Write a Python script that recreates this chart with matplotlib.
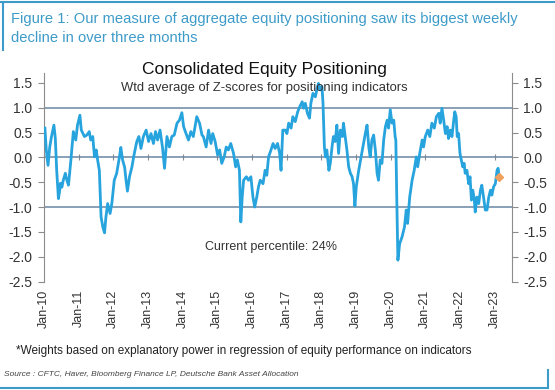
import matplotlib.pyplot as plt
from matplotlib.lines import Line2D

plt.rcParams['font.family'] = ['Liberation Sans', 'DejaVu Sans']

# Позиционирование: время в долях года, значение Z-score
t = [2010.03, 2010.07, 2010.12, 2010.17, 2010.22, 2010.29, 2010.33, 2010.37, 2010.42, 2010.45,
     2010.48, 2010.52, 2010.56, 2010.62, 2010.66, 2010.71, 2010.78, 2010.85, 2010.92, 2010.97,
     2011.04, 2011.08, 2011.17, 2011.24, 2011.31, 2011.35, 2011.41, 2011.46, 2011.51, 2011.55,
     2011.60, 2011.65, 2011.70, 2011.75, 2011.79, 2011.84, 2011.91, 2011.96, 2012.03, 2012.10,
     2012.18, 2012.22, 2012.27, 2012.33, 2012.37, 2012.41, 2012.47, 2012.54, 2012.60, 2012.68,
     2012.74, 2012.80, 2012.87, 2012.95, 2013.02, 2013.09, 2013.16, 2013.22, 2013.28, 2013.35,
     2013.42, 2013.48, 2013.55, 2013.62, 2013.69, 2013.76, 2013.84, 2013.91, 2013.98, 2014.03,
     2014.10, 2014.17, 2014.24, 2014.31, 2014.41, 2014.49, 2014.56, 2014.60, 2014.68, 2014.75,
     2014.82, 2014.87, 2014.94, 2015.01, 2015.07, 2015.13, 2015.20, 2015.26, 2015.32, 2015.39,
     2015.47, 2015.53, 2015.58, 2015.64, 2015.68, 2015.72, 2015.76, 2015.84, 2015.90, 2015.97,
     2016.03, 2016.08, 2016.14, 2016.19, 2016.24, 2016.32, 2016.38, 2016.43, 2016.48, 2016.55,
     2016.61, 2016.67, 2016.74, 2016.80, 2016.84, 2016.89, 2016.96, 2017.01, 2017.06, 2017.13,
     2017.18, 2017.25, 2017.32, 2017.38, 2017.45, 2017.49, 2017.54, 2017.60, 2017.66, 2017.70,
     2017.76, 2017.83, 2017.88, 2017.92, 2017.97, 2018.02, 2018.05, 2018.09, 2018.12, 2018.16,
     2018.22, 2018.26, 2018.31, 2018.35, 2018.40, 2018.45, 2018.50, 2018.55, 2018.61, 2018.64,
     2018.69, 2018.74, 2018.79, 2018.84, 2018.89, 2018.93, 2018.97, 2019.01, 2019.08, 2019.15,
     2019.20, 2019.27, 2019.32, 2019.37, 2019.41, 2019.46, 2019.51, 2019.56, 2019.61, 2019.65,
     2019.70, 2019.75, 2019.80, 2019.85, 2019.90, 2019.94, 2019.99, 2020.04, 2020.09, 2020.13,
     2020.15, 2020.18, 2020.21, 2020.26, 2020.33, 2020.40, 2020.45, 2020.49, 2020.55, 2020.62,
     2020.68, 2020.74, 2020.78, 2020.84, 2020.91, 2020.95, 2021.00, 2021.07, 2021.13, 2021.19,
     2021.26, 2021.32, 2021.39, 2021.43, 2021.48, 2021.53, 2021.58, 2021.63, 2021.67, 2021.72,
     2021.77, 2021.82, 2021.85, 2021.89, 2021.92, 2021.96, 2022.00, 2022.04, 2022.08, 2022.12,
     2022.15, 2022.20, 2022.25, 2022.29, 2022.33, 2022.37, 2022.41, 2022.44, 2022.49, 2022.54,
     2022.59, 2022.63, 2022.68, 2022.73, 2022.78, 2022.83, 2022.88, 2022.92, 2022.97, 2023.02,
     2023.07, 2023.10, 2023.13]
z = [0.59, 0.15, -0.16, 0.21, 0.42, 0.65, 0.39, -0.26, -0.83, -0.70,
     -0.52, -0.60, -0.46, -0.32, -0.45, -0.56, -0.05, 0.52, 0.35, 0.65,
     0.85, 0.55, 0.42, 0.45, 0.52, 0.35, 0.42, 0.01, 0.15, -0.05,
     -0.26, -1.20, -1.40, -1.52, -1.20, -0.93, -1.13, -0.93, -0.46, -0.32,
     0.01, 0.20, -0.05, -0.20, -0.46, -0.68, -0.39, -0.19, 0.05, 0.32,
     0.42, 0.18, 0.42, 0.55, 0.32, 0.48, 0.28, 0.52, 0.35, 0.55,
     0.21, -0.22, 0.42, 0.21, 0.42, 0.45, 0.69, 0.75, 0.90, 0.62,
     0.48, 0.35, 0.52, 0.42, 0.82, 0.69, 0.45, 0.42, 0.21, 0.55,
     0.28, 0.48, 0.32, 0.05, 0.15, -0.12, 0.01, 0.21, 0.15, 0.28,
     0.08, -0.19, -0.05, -0.26, -1.30, -0.80, -0.46, -0.39, -0.46, -0.39,
     -0.80, -1.00, -0.80, -0.59, -0.46, -0.53, -0.26, -0.36, 0.01, 0.15,
     0.28, 0.18, 0.28, 0.08, -0.26, 0.55, 0.55, 0.48, 0.69, 0.59,
     0.82, 0.72, 0.92, 1.02, 1.12, 0.99, 1.09, 0.89, 0.79, 1.09,
     1.29, 1.22, 1.39, 1.49, 1.36, 1.43, 1.09, 0.21, 0.01, 0.15,
     -0.26, -0.12, 0.21, 0.42, 0.32, 0.65, 0.08, 0.55, 0.42, 0.69,
     0.42, 0.15, -0.19, -0.32, -0.39, -0.53, -0.98, -0.59, -0.26, 0.01,
     0.21, 0.48, 0.65, 0.21, 0.01, 0.35, 0.45, 0.15, -0.32, -0.46,
     -0.05, -0.12, 0.35, 0.62, 0.75, 0.59, 0.96, 0.69, 0.75, 0.42,
     0.35, -0.93, -2.07, -1.74, -1.60, -1.40, -1.06, -1.33, -0.80, -0.46,
     -0.26, 0.01, -0.19, 0.08, 0.35, 0.21, 0.42, 0.55, 0.42, 0.69,
     0.59, 0.82, 0.89, 0.69, 0.99, 0.75, 0.48, 0.62, 0.38, 0.55,
     0.42, 0.75, 0.92, 0.82, 0.42, 0.48, 0.08, -0.05, -0.19, -0.12,
     -0.32, -0.26, -0.53, -0.39, -0.86, -0.66, -0.83, -1.10, -0.80, -0.93,
     -0.66, -0.56, -0.80, -1.06, -1.06, -0.80, -0.66, -0.76, -0.59, -0.53,
     -0.26, -0.22, -0.39]

years = list(range(2010, 2024))
year_labels = ['Jan-%02d' % (y % 100) for y in years]
y_ticks = [-2.5, -2.0, -1.5, -1.0, -0.5, 0.0, 0.5, 1.0, 1.5]
ref_levels = [1.0, 0.0, -1.0]

ymin, ymax = -2.5, 1.7
gray = '#8c8c8c'
teal = '#3d9bc9'

fig = plt.figure(figsize=(5.55, 3.9), dpi=100)
ax = fig.add_axes([0.0784, 0.2782, 0.9225 - 0.0784, 0.8128 - 0.2782])

for lv in ref_levels:
    ax.axhline(lv, color='#6a86a3', lw=1.1, zorder=1)

ax.plot(t, z, color='#27a3dd', lw=2.0, zorder=3)
ax.plot(t[-1], z[-1], marker='D', ms=4.5, color='#f0a05e', zorder=4)

ax.set_xlim(2009.99, 2023.5)
ax.set_ylim(ymin, ymax)

ax.spines['top'].set_visible(False)
ax.spines['bottom'].set_visible(False)
ax.spines['left'].set_color(gray)
ax.spines['right'].set_color(gray)

ax.set_yticks(y_ticks)
ax.set_yticklabels(['%.1f' % v for v in y_ticks])
ax.tick_params(axis='y', which='both', left=True, right=True, labelleft=True, labelright=True,
               direction='out', length=4, color=gray, labelsize=10, labelcolor='#333333', pad=4)

ax.set_xticks(years)
ax.set_xticklabels(year_labels, rotation=90)
ax.tick_params(axis='x', length=0, labelsize=9, labelcolor='#333333', pad=6)

# засечки лет на нулевой линии
sec = ax.secondary_xaxis((0 - ymin) / (ymax - ymin))
sec.set_xticks(years)
sec.set_xticklabels([])
sec.tick_params(axis='x', direction='inout', length=5, color=gray)
sec.spines['bottom'].set_visible(False)
sec.spines['top'].set_visible(False)

fig.text(0.476, 0.822, 'Consolidated Equity Positioning', ha='center', va='center',
         fontsize=12.5, color='#111111')
fig.text(0.476, 0.774, 'Wtd average of Z-scores for positioning indicators', ha='center',
         va='center', fontsize=9.4, color='#333333')
fig.text(0.488, 0.367, 'Current percentile: 24%', ha='center', va='center',
         fontsize=9, color='#333333')

fig.text(0.02, 0.951, 'Figure 1: Our measure of aggregate equity positioning saw its biggest weekly',
         ha='left', va='center', fontsize=10.6, color=teal)
fig.text(0.02, 0.903, 'decline in over three months', ha='left', va='center',
         fontsize=10.6, color=teal)
fig.text(0.028, 0.1, '*Weights based on explanatory power in regression of equity performance on indicators',
         ha='left', va='center', fontsize=8.45, color='#222222')
fig.text(0.007, 0.041, 'Source : CFTC, Haver, Bloomberg Finance LP, Deutsche Bank Asset Allocation',
         ha='left', va='center', fontsize=6.0, style='italic', color='#444444')

# рамка
fig.add_artist(Line2D([0, 1], [0.996, 0.996], color=teal, lw=1.5))
fig.add_artist(Line2D([0.005, 0.005], [0.996, 0.872], color=teal, lw=1.5))
fig.add_artist(Line2D([0, 0.988], [0.005, 0.005], color=teal, lw=1.5))
fig.add_artist(Line2D([0.988, 0.988], [0.005, 0.052], color=teal, lw=1.5))

fig.savefig('out.png', dpi=100)
